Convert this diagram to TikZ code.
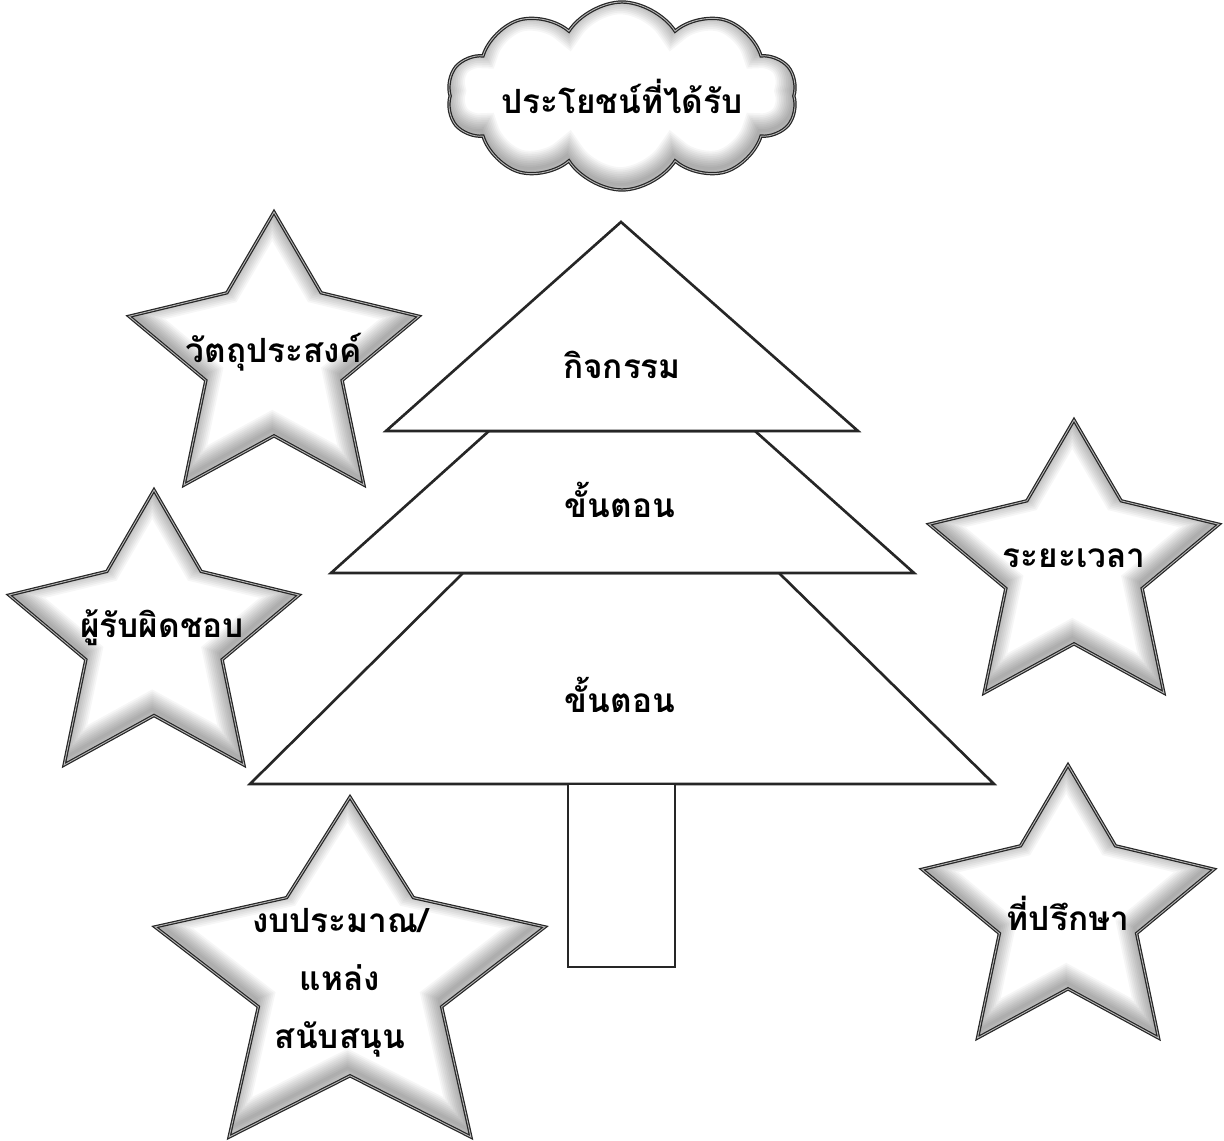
\documentclass[tikz,border=0pt]{standalone}
\usepackage{fontspec}
\usetikzlibrary{shapes.symbols}
\newfontfamily\thaifont[Script=Thai]{Loma}

\tikzset{
  tier/.style={draw=black!85, fill=white, line width=1.5pt, line join=miter},
  staredge/.style={draw=black!85, double=gray!55, double distance=0.5pt, line width=0.7pt, line join=miter},
  thaitext/.style={font=\thaifont\bfseries\fontsize{19pt}{33pt}\selectfont, align=center, inner sep=0pt},
  cloudbox/.style={cloud, cloud puffs=10, cloud puff arc=115, cloud ignores aspect,
    minimum width=7cm, minimum height=3.76cm, inner sep=0pt},
}

% star outline, apex at (0,0), half width 1, height 1
\newcommand{\starpts}{(0,0) -- (.325,.296) -- (1,.382) -- (.47,.617) -- (.62,1) -- (0,.82)
  -- (-.62,1) -- (-.47,.617) -- (-1,.382) -- (-.325,.296) -- cycle}

% #1,#2 apex, #3 half width, #4 height (all in px)
\newcommand{\glowstar}[4]{%
  \begin{scope}[shift={(#1,#2)}, xscale=#3, yscale=#4]
    \fill[white] \starpts;
    \begin{scope}
      \clip \starpts;
      \foreach \w in {2,4,...,20}
        \draw[black, opacity=.035, line width=\w*1pt, shift={(-.012,-.022)}] \starpts;
    \end{scope}
    \draw[staredge] \starpts;
  \end{scope}}

\begin{document}
\begin{tikzpicture}[x=0.02cm, y=-0.02cm]
\useasboundingbox (0,0) rectangle (1224,1141);

% cloud on top
\node[cloudbox, fill=white, staredge, path picture={
    \foreach \w in {2,4,...,20}
      \node[cloudbox, draw=black, opacity=.035, line width=\w*1pt]
        at ([xshift=-1pt, yshift=3pt]path picture bounding box.center) {};
  }] (cloud) at (622,96) {};
\node[thaitext] (benefit) at (cloud.center) {ประโยชน์ที่ได้รับ};

% the tree
\draw[tier] (250,784) -- (463,573) -- (779,573) -- (994,784) -- cycle;
\draw[tier] (331,573) -- (489,431) -- (755,431) -- (914,573) -- cycle;
\draw[tier] (386,431) -- (621,222) -- (858,431) -- cycle;
\draw[tier] (568,784) rectangle (675,967);
\node[thaitext] (activity) at (622,365) {กิจกรรม};
\node[thaitext] (stepa) at (620,500) {ขั้นตอน};
\node[thaitext] (stepb) at (620,695) {ขั้นตอน};

% stars
\glowstar{274}{212}{145}{273}
\glowstar{154}{490}{145}{275}
\glowstar{350}{797}{195}{340}
\glowstar{1074}{420}{145}{273}
\glowstar{1068}{765}{146}{273}
\node[thaitext] (objective) at (274,352) {วัตถุประสงค์};
\node[thaitext] (owner) at (162,628) {ผู้รับผิดชอบ};
\node[thaitext] (budget) at (340,983) {งบประมาณ/\\แหล่ง\\สนับสนุน};
\node[thaitext] (period) at (1074,558) {ระยะเวลา};
\node[thaitext] (advisor) at (1068,913) {ที่ปรึกษา};
\end{tikzpicture}
\end{document}
